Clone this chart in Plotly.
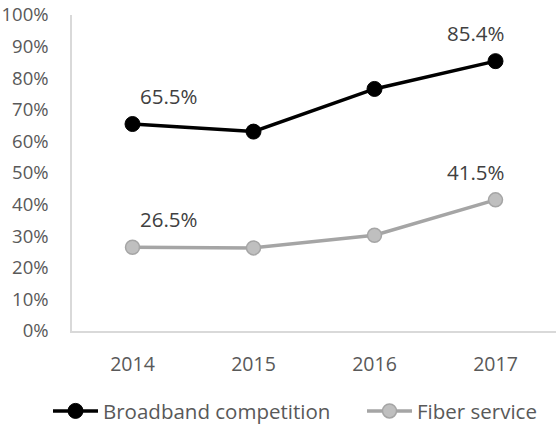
import plotly.graph_objects as go

years = ["2014", "2015", "2016", "2017"]
broadband = [0.655, 0.631, 0.766, 0.854]
fiber = [0.265, 0.263, 0.303, 0.415]
y_ticks = [0, 0.1, 0.2, 0.3, 0.4, 0.5, 0.6, 0.7, 0.8, 0.9, 1.0]

FONT = "Open Sans"
TXT = "#595959"

fig = go.Figure()
fig.add_trace(go.Scatter(
    x=years, y=broadband, name="Broadband competition", mode="lines+markers",
    line=dict(color="#000000", width=3.5),
    marker=dict(size=15, color="#000000", line=dict(color="#000000", width=1)),
    legend="legend",
))
fig.add_trace(go.Scatter(
    x=years, y=fiber, name="Fiber service", mode="lines+markers",
    line=dict(color="#a5a5a5", width=3.5),
    marker=dict(size=14, color="#bfbfbf", line=dict(color="#a5a5a5", width=1.5)),
    legend="legend2",
))

# data labels at first and last points (x given as category index)
for series in (broadband, fiber):
    for i in (0, len(years) - 1):
        fig.add_annotation(
            x=i, y=series[i], text=f"{series[i]*100:.1f}%",
            showarrow=False, xshift=36 if i == 0 else -20, yshift=28,
            font=dict(family=FONT, size=20.5, color="#404040"),
        )

leg_common = dict(
    orientation="h", xanchor="left", xref="container",
    yref="container", y=0.044, yanchor="middle",
    font=dict(family=FONT, size=20.5, color=TXT),
    itemwidth=45, bgcolor="rgba(0,0,0,0)",
)

fig.update_layout(
    width=556, height=430,
    margin=dict(l=72, r=0, t=15, b=99),
    paper_bgcolor="white", plot_bgcolor="white",
    font=dict(family=FONT, size=19, color=TXT),
    showlegend=True,
    legend=dict(x=48 / 556, **leg_common),
    legend2=dict(x=362 / 556, **leg_common),
    xaxis=dict(
        type="category", range=[-0.5, 3.5], showgrid=False, showline=True,
        linecolor="#d9d9d9", linewidth=1.5, ticks="", ticklabelstandoff=15,
        tickfont=dict(family=FONT, size=19.5, color=TXT), fixedrange=True,
    ),
    yaxis=dict(
        range=[0, 1.0], tickvals=y_ticks, tickformat=".0%", showgrid=False,
        showline=True, linecolor="#d9d9d9", linewidth=1.5, ticks="",
        ticklabelstandoff=18, zeroline=False,
        tickfont=dict(family=FONT, size=18.5, color=TXT), fixedrange=True,
    ),
)

fig.write_html(
    "out.html",
    config={"displayModeBar": False},
    post_script="document.body.style.margin='0';document.body.style.padding='0';",
)
